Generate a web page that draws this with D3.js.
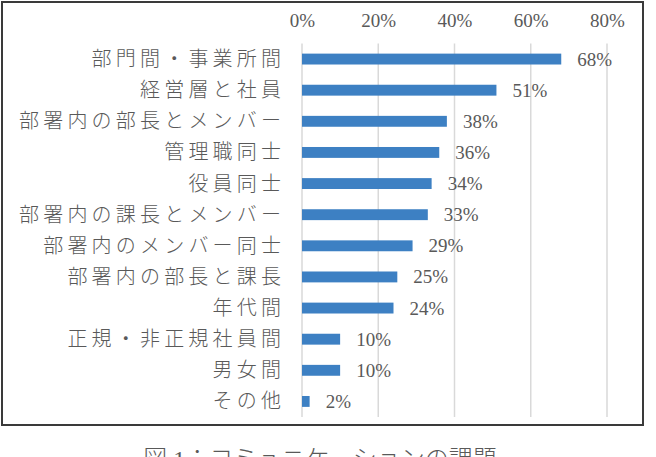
<!DOCTYPE html>
<html>
<head>
<meta charset="utf-8">
<script src="https://cdn.jsdelivr.net/npm/d3@7"></script>
<style>
  body { margin: 0; background: #fff; }
  svg text { fill: #595959; }
</style>
</head>
<body>
<svg id="drawing_region"></svg>
<script>
const categories = ["部門間・事業所間", "経営層と社員", "部署内の部長とメンバー", "管理職同士", "役員同士",
  "部署内の課長とメンバー", "部署内のメンバー同士", "部署内の部長と課長", "年代間", "正規・非正規社員間", "男女間", "その他"];
const values = [68, 51, 38, 36, 34, 33, 29, 25, 24, 10, 10, 2];
const xTicks = [0, 20, 40, 60, 80];
const caption = "図 1：コミュニケーションの課題";

const data = categories.map((c, i) => ({ label: c, value: values[i] }));

const width = 656, height = 457;
const font = "'Liberation Serif', 'Noto Sans CJK JP', serif";

const svg = d3.select('#drawing_region')
  .attr('width', width)
  .attr('height', height);

// frame
svg.append('rect')
  .attr('x', 2).attr('y', 2)
  .attr('width', 641).attr('height', 423)
  .attr('fill', 'none')
  .attr('stroke', '#3a3a3a')
  .attr('stroke-width', 2);

const xscale = d3.scaleLinear().domain([0, 80]).range([302, 607]);
const yscale = d3.scaleBand()
  .domain(categories)
  .range([43.5, 417])
  .paddingInner(0.65)
  .paddingOuter(0.325);

// gridlines
svg.append('g').selectAll('line')
  .data(xTicks)
  .join('line')
  .attr('x1', d => xscale(d)).attr('x2', d => xscale(d))
  .attr('y1', 43.5).attr('y2', 417)
  .attr('stroke', '#d9d9d9')
  .attr('stroke-width', 1.5);

// top axis labels
const xaxis = d3.axisTop(xscale).tickValues(xTicks).tickFormat(d => d + '%').tickSize(0).tickPadding(0);
const xg = svg.append('g').attr('transform', 'translate(0,27)').call(xaxis);
xg.select('.domain').remove();
xg.selectAll('text')
  .attr('font-family', font)
  .attr('font-size', 19)
  .attr('fill', '#595959');

// bars
svg.append('g').selectAll('rect')
  .data(data)
  .join('rect')
  .attr('x', xscale(0))
  .attr('y', d => yscale(d.label))
  .attr('width', d => xscale(d.value) - xscale(0))
  .attr('height', yscale.bandwidth())
  .attr('fill', '#3d80c3');

// value labels
svg.append('g').selectAll('text')
  .data(data)
  .join('text')
  .attr('x', d => xscale(d.value) + 16)
  .attr('y', d => yscale(d.label) + yscale.bandwidth() / 2)
  .attr('dominant-baseline', 'central')
  .attr('font-family', font)
  .attr('font-size', 19)
  .text(d => d.value + '%');

// category labels
const ls = 4.2;
svg.append('g').selectAll('text')
  .data(data)
  .join('text')
  .attr('x', 281 + ls)
  .attr('y', d => yscale(d.label) + yscale.bandwidth() / 2)
  .attr('text-anchor', 'end')
  .attr('dominant-baseline', 'central')
  .attr('font-family', font)
  .attr('font-weight', 300)
  .attr('font-size', 20)
  .attr('letter-spacing', ls)
  .text(d => d.label);

// caption (cut off by the bottom edge, as in the source image)
svg.append('text')
  .attr('x', 320)
  .attr('y', 467)
  .attr('text-anchor', 'middle')
  .attr('font-family', font)
  .attr('font-weight', 300)
  .attr('font-size', 24)
  .text(caption);
</script>
</body>
</html>
